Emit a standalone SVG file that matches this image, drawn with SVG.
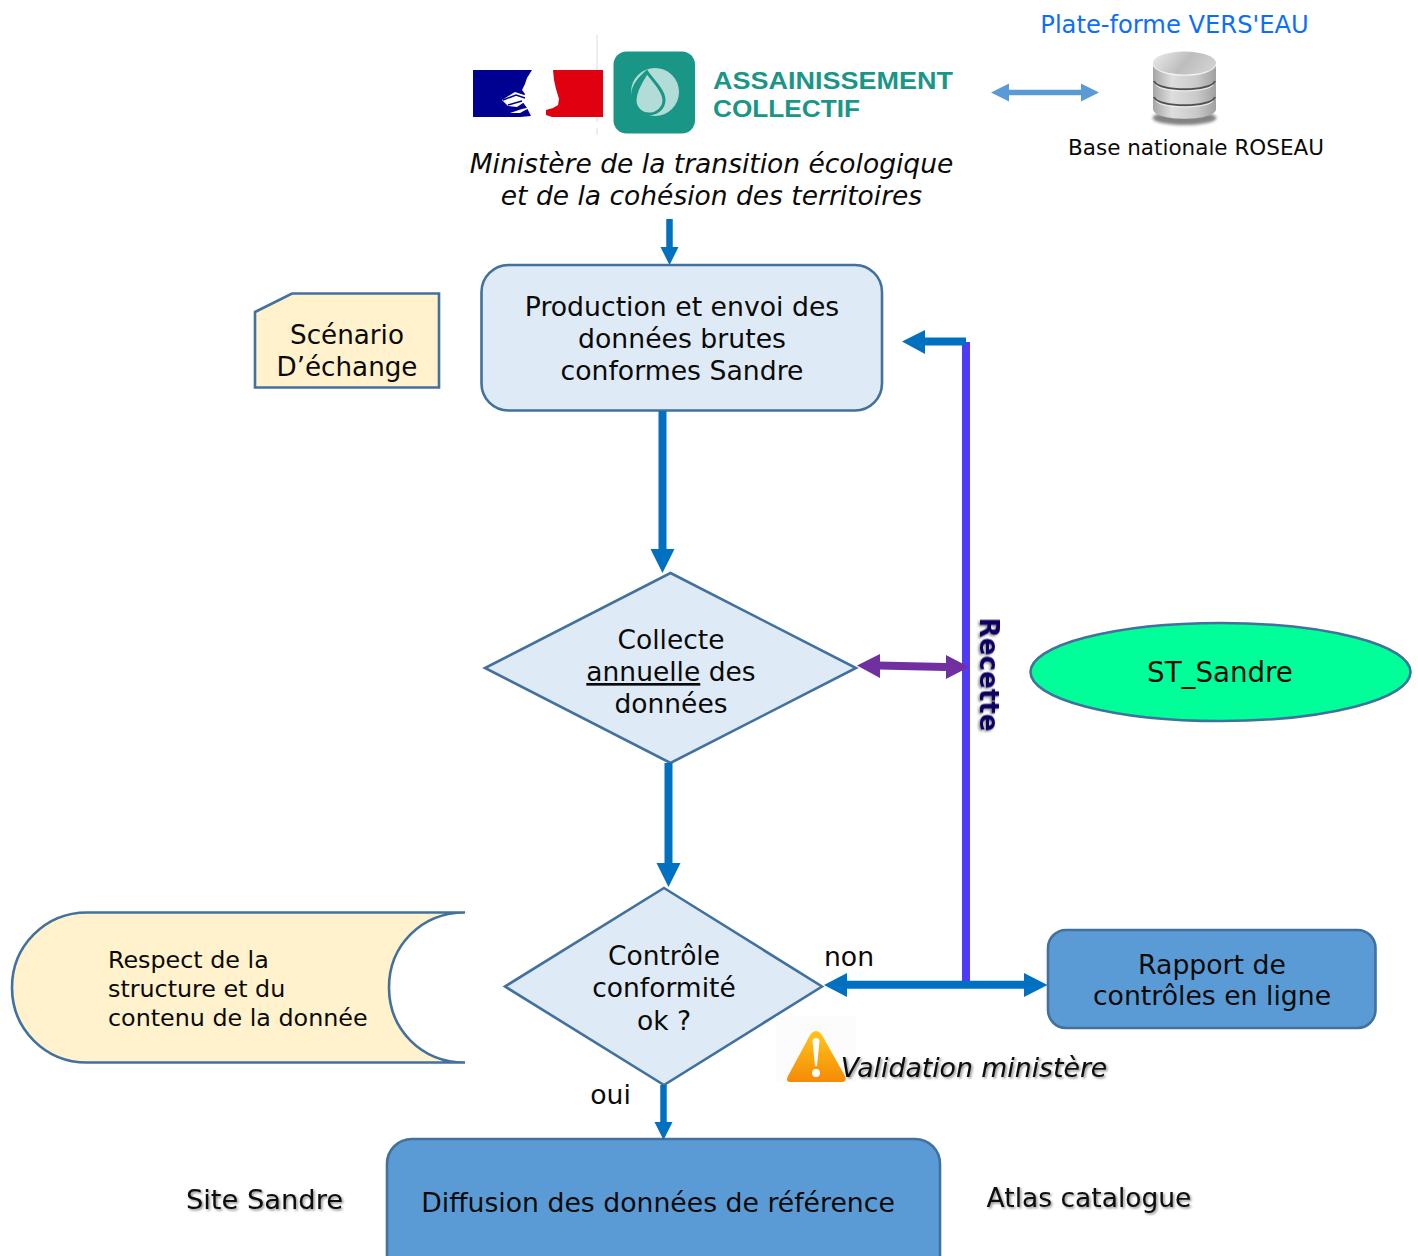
<svg xmlns="http://www.w3.org/2000/svg" width="1418" height="1256" viewBox="0 0 1418 1256">
<defs>
<style>
text{font-family:"DejaVu Sans",Verdana,sans-serif;fill:#0a0a0a;font-size:26.7px;text-anchor:middle}
.st{stroke:#41719c;stroke-width:2.6;}
.lt{fill:#deeaf6}
.bl{fill:#5b9bd5}
.ye{fill:#fff2cc}
.sh{filter:url(#ts)}
.ln{fill:none;stroke:#0070c0;stroke-width:8}
.hd{fill:#0070c0}
.logo{font-family:"Liberation Sans",Arial,sans-serif;font-weight:700;font-size:24.6px;fill:#1a9687;text-anchor:start}
</style>
<filter id="ts" x="-5%" y="-20%" width="110%" height="150%"><feDropShadow dx="1.5" dy="1.5" stdDeviation="1" flood-color="#000" flood-opacity="0.45"/></filter>
<filter id="bl1" x="-20%" y="-50%" width="140%" height="200%"><feGaussianBlur stdDeviation="1.6"/></filter>
<linearGradient id="cyl" x1="0" x2="1" y1="0" y2="0"><stop offset="0" stop-color="#a6a6a6"/><stop offset="0.3" stop-color="#dedede"/><stop offset="0.7" stop-color="#c9c9c9"/><stop offset="1" stop-color="#a0a0a0"/></linearGradient>
<linearGradient id="cap" x1="0" x2="1" y1="0" y2="0.3"><stop offset="0" stop-color="#ededed"/><stop offset="0.6" stop-color="#bdbdbd"/><stop offset="1" stop-color="#cfcfcf"/></linearGradient>
<linearGradient id="warn" x1="0" x2="0" y1="0" y2="1"><stop offset="0" stop-color="#ffc61a"/><stop offset="1" stop-color="#f58a07"/></linearGradient>
</defs>

<g id="logo">
<path d="M597 35V122M597 128V135" stroke="#dcdcdc" stroke-width="1" fill="none"/>
<path d="M473 70H532L527 78 525 84 522 90 525 94 522 101 527 108 531 116 520 117H473Z" fill="#000091"/>
<path d="M553 70H603V117H552L546 115 546 110 553 108 558 105 559 99 556 89 554 80Z" fill="#e1000f"/>
<path d="M502 100L515 92 527 96 526 101 517 107 508 106ZM510 113L522 109 531 107 520 113Z" fill="#fff"/>
<path d="M503 100L516 95 525 98M508 105L522 101" stroke="#000091" stroke-width="1.5" fill="none"/>
<rect x="613.500" y="51.500" width="81.500" height="82" rx="13" fill="#1a9687"/>
<circle cx="655" cy="92" r="24" fill="#b2dcd7"/>
<path d="M647 69.500C640 76 631 84 631 96 631 107 640 116 650 116 638 112 635 104 635 97 636 86 642 78 647 69.500Z" fill="#1a9687"/>
<path d="M647 72C652 80 664 90 664 100 664 108 657 114 649 114 641 114 635 108 635 100 635 90 642 80 647 72Z" fill="#b2dcd7" stroke="#1a9687" stroke-width="3"/>
<text class="logo" x="713" y="88.500" textLength="240" lengthAdjust="spacingAndGlyphs">ASSAINISSEMENT</text>
<text class="logo" x="713" y="117.200" textLength="147" lengthAdjust="spacingAndGlyphs">COLLECTIF</text>
</g>
<g id="ministere">
<text x="711.500" y="173" font-style="italic" style="font-size:26.5px">Ministère de la transition écologique</text>
<text x="711.500" y="205" font-style="italic" style="font-size:26.5px">et de la cohésion des territoires</text>
</g>

<g id="plateforme">
<text x="1174.500" y="33" style="fill:#0d6efd;font-size:24.2px">Plate-forme VERS'EAU</text>
</g>
<g id="base-roseau">
<ellipse cx="1184.500" cy="118" rx="32" ry="7" fill="#333" opacity="0.6" filter="url(#bl1)"/>
<path d="M1153 64V109C1153 122 1216 122 1216 109V64Z" fill="url(#cyl)"/>
<ellipse cx="1184.500" cy="63" rx="31.500" ry="11.500" fill="url(#cap)"/>
<path d="M1153 64C1156 79 1213 79 1216 64" fill="none" stroke="#f2f2f2" stroke-width="1.200"/>
<path d="M1154 81C1158 92 1211 92 1215 81M1154 97C1158 108 1211 108 1215 97" fill="none" stroke="#4f4f4f" stroke-width="1.800"/>
<path d="M1156 85C1162 93 1207 93 1213 85M1156 101C1162 109 1207 109 1213 101" fill="none" stroke="#efefef" stroke-width="1"/>
<text x="1196" y="155" style="font-size:21.5px">Base nationale ROSEAU</text>
</g>

<g id="scenario">
<path class="st ye" d="M255 312L292 293.500H439V387.500H255Z"/>
<text x="347" y="344" style="font-size:26.2px">Scénario</text>
<text x="347" y="376" style="font-size:26.2px">D’échange</text>
</g>
<g id="production">
<rect class="st lt" x="481.500" y="265" width="400.500" height="145.500" rx="27"/>
<text x="682" y="316">Production et envoi des</text>
<text x="682" y="348">données brutes</text>
<text x="682" y="380">conformes Sandre</text>
</g>
<g id="collecte">
<path class="st lt" d="M670.500 573L856 668 670.500 763 485 668Z"/>
<text x="671" y="649" style="font-size:26.5px">Collecte</text>
<text x="671" y="681" style="font-size:26.5px"><tspan text-decoration="underline">annuelle</tspan> des</text>
<text x="671" y="713" style="font-size:26.5px">données</text>
</g>
<g id="st-sandre">
<ellipse cx="1220.500" cy="672" rx="190" ry="49" fill="#00ff99" stroke="#41719c" stroke-width="2.600"/>
<text x="1220" y="682" style="font-size:27.700px">ST_Sandre</text>
</g>
<g id="controle">
<path class="st lt" d="M664 888L822 986.500 664 1085 505 986.500Z"/>
<text x="664" y="965" style="font-size:26.5px">Contrôle</text>
<text x="664" y="997" style="font-size:26.5px">conformité</text>
<text x="664" y="1030" style="font-size:26.5px">ok ?</text>
</g>
<g id="respect">
<path class="st ye" d="M465 912.500H87C45 912.500 12 946 12 987.500 12 1029 45 1062.500 87 1062.500H465C421 1062.500 389 1029 389 987.500 389 946 421 912.500 465 912.500Z" stroke-linejoin="round"/>
<path d="M465.500 910V1065" stroke="#fff" stroke-width="1" fill="none"/>
<text x="108" y="968" style="font-size:23.8px;text-anchor:start">Respect de la</text>
<text x="108" y="997" style="font-size:23.8px;text-anchor:start">structure et du</text>
<text x="108" y="1026" style="font-size:23.8px;text-anchor:start">contenu de la donnée</text>
</g>
<g id="rapport">
<rect class="st bl" x="1048" y="930" width="327.500" height="98" rx="18"/>
<text x="1212" y="974">Rapport de</text>
<text x="1212" y="1005">contrôles en ligne</text>
</g>
<g id="diffusion">
<path class="st bl" d="M387 1264V1164C387 1150 398 1139 412 1139H915C929 1139 940 1150 940 1164V1264Z"/>
<text x="658" y="1212">Diffusion des données de référence</text>
</g>
<g id="warning">
<rect x="776" y="1016" width="80" height="66" fill="#fafafa" opacity="0.5"/>
<path d="M816 1031C819 1031 821 1033 823 1037L845 1076C847 1080 845 1082 841 1082H791C787 1082 786 1080 788 1076L809 1037C811 1033 813 1031 816 1031Z" fill="url(#warn)"/>
<path d="M812.500 1041C812.500 1037 819.500 1037 819.500 1041L817 1066H815Z" fill="#fff"/>
<circle cx="816" cy="1073" r="4" fill="#fff"/>
</g>
<g id="labels">
<text class="sh" x="974" y="1077" font-style="italic" style="font-size:26.7px">Validation ministère</text>
<text x="849" y="966">non</text>
<text x="610.500" y="1104">oui</text>
<text class="sh" x="264.500" y="1209" style="font-size:27.300px">Site Sandre</text>
<text class="sh" x="1089" y="1207" style="font-size:26.500px">Atlas catalogue</text>
<text class="sh" transform="translate(980 674.500) rotate(90)" style="font-weight:700;fill:#0b0560;font-size:26.2px">Recette</text>
</g>

<g id="connectors">
<path class="ln" style="stroke-width:6.500" d="M669.500 219V250"/><path class="hd" d="M660.500 247H678.500L669.500 265Z"/>
<path class="ln" d="M662.500 411V550"/><path class="hd" d="M650.500 549H674.500L662.500 573Z"/>
<path class="ln" d="M668.500 763V864"/><path class="hd" d="M656.500 863H680.500L668.500 887Z"/>
<path class="ln" style="stroke-width:6.500" d="M663.500 1085V1125"/><path class="hd" d="M654.500 1122H672.500L663.500 1140Z"/>
<path d="M966 981V342" fill="none" stroke="#4f3bf5" stroke-width="8"/>
<path class="ln" d="M845 984.700H1025"/><path class="hd" d="M847 973V997L824 985ZM1024 973V997L1047.500 985Z"/>
<path class="ln" d="M966 341.500H922"/><path class="hd" d="M925 330V354L902 341.500Z"/>
<path d="M878 665.500L946 667" fill="none" stroke="#7030a0" stroke-width="8"/>
<path d="M880 654V678L857 665.500ZM946 655V679L969 667Z" fill="#7030a0"/>
<path d="M1008 92.500H1082" fill="none" stroke="#5b9bd5" stroke-width="5.500"/>
<path d="M1009 83.500V101.500L991 92.500ZM1081 83.500V101.500L1099 92.500Z" fill="#5b9bd5"/>
</g>
</svg>
